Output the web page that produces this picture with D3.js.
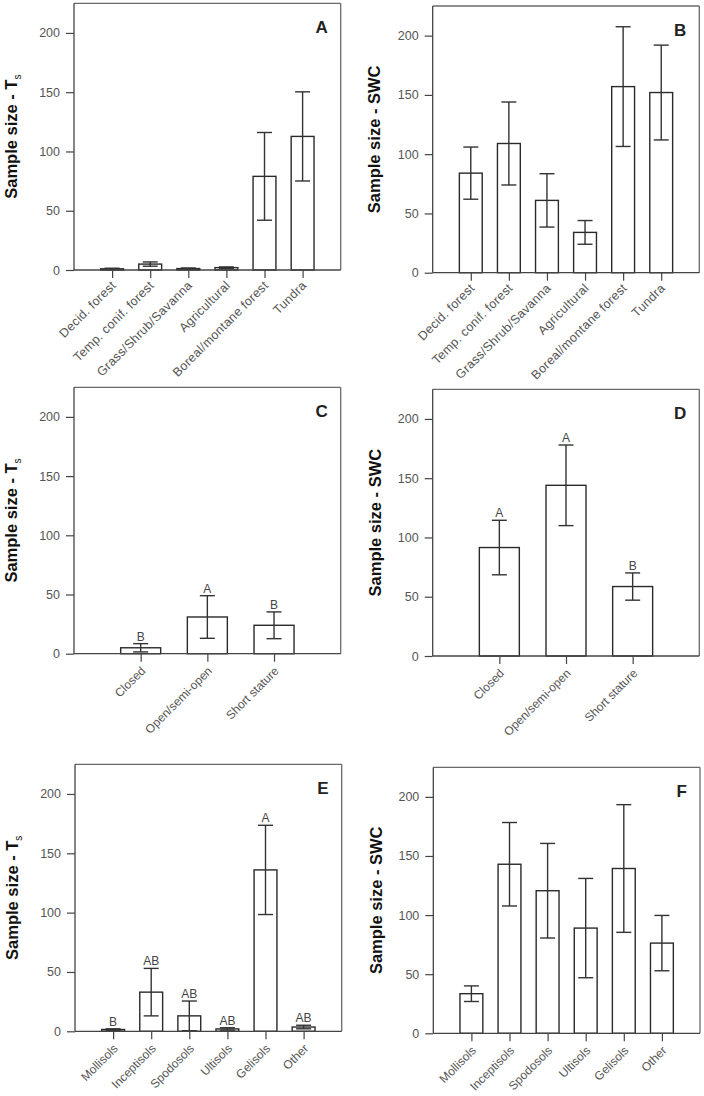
<!DOCTYPE html>
<html><head><meta charset="utf-8">
<script src="https://cdn.jsdelivr.net/npm/d3@7"></script>
<style>body{margin:0;background:#fff}svg{display:block}</style>
</head><body>
<script>
const catsVeg = ["Decid. forest","Temp. conif. forest","Grass/Shrub/Savanna","Agricultural","Boreal/montane forest","Tundra"];
const catsStat = ["Closed","Open/semi-open","Short stature"];
const catsSoil = ["Mollisols","Inceptisols","Spodosols","Ultisols","Gelisols","Other"];
const yTicks = [0,50,100,150,200];

const aVals = [1, 5, 1.2, 2, 79, 112.7];
const aErr  = [0.5, 1.8, 0.5, 0.6, 37, 37.6];
const bVals = [84, 109, 61, 34, 157, 152];
const bErr  = [22, 35, 22.5, 10, 50.5, 40];
const cVals = [5, 31, 24];
const cErr  = [3.5, 18, 11.3];
const cLetters = ["B","A","B"];
const dVals = [91.5, 144, 58.6];
const dErr  = [23, 34, 11.5];
const dLetters = ["A","A","B"];
const eVals = [1.5, 33, 13, 2, 136, 3.6];
const eErr  = [0.6, 20, 12.5, 1, 37.6, 1.5];
const eLetters = ["B","AB","AB","AB","A","AB"];
const fVals = [33.5, 143, 120.6, 89, 139.4, 76.3];
const fErr  = [6.6, 35.3, 40, 42, 54, 23.4];

const vegLab = {size:12.5, ls:0.3, dx:1, dy:13};
const stdLab = {size:12, ls:0, dx:2, dy:15};

const panels = [
  {id:"A", cats:catsVeg, vals:aVals, err:aErr, letters:null, ylab:"Ts", lab:vegLab, x0:74, x1:340.7, yTop:3.3, yZero:270, labX:17},
  {id:"B", cats:catsVeg, vals:bVals, err:bErr, letters:null, ylab:"SWC", lab:vegLab, x0:432.7, x1:699.3, yTop:6, yZero:272.7, labX:380},
  {id:"C", cats:catsStat, vals:cVals, err:cErr, letters:cLetters, ylab:"Ts", lab:stdLab, x0:74, x1:340.7, yTop:387.3, yZero:653.7, labX:17},
  {id:"D", cats:catsStat, vals:dVals, err:dErr, letters:dLetters, ylab:"SWC", lab:stdLab, x0:432.7, x1:699.3, yTop:389.3, yZero:656, labX:381},
  {id:"E", cats:catsSoil, vals:eVals, err:eErr, letters:eLetters, ylab:"Ts", lab:stdLab, x0:75, x1:341.7, yTop:764.3, yZero:1031.3, labX:18},
  {id:"F", cats:catsSoil, vals:fVals, err:fErr, letters:null, ylab:"SWC", lab:stdLab, x0:433.3, x1:700, yTop:767.3, yZero:1033.3, labX:382}
];

const W = 704, H = 1096;
const font = "'Liberation Sans', Arial, Helvetica, sans-serif";
const svg = d3.select("body").append("svg").attr("width", W).attr("height", H)
  .style("font-family", font);

panels.forEach(p => {
  const g = svg.append("g");
  const x = d3.scalePoint().domain(p.cats).range([p.x0, p.x1]).padding(1);
  const y = d3.scaleLinear().domain([0, 225]).range([p.yZero, p.yTop]);
  const bw = x.step() * 0.6;
  const cap = 15;

  // frame top/right
  g.append("line").attr("x1", p.x0).attr("x2", p.x1).attr("y1", p.yTop).attr("y2", p.yTop)
    .attr("stroke", "#6a6a6a").attr("stroke-width", 1.3);
  g.append("line").attr("x1", p.x1).attr("x2", p.x1).attr("y1", p.yTop).attr("y2", p.yZero)
    .attr("stroke", "#6a6a6a").attr("stroke-width", 1.3);

  // bars
  g.selectAll("rect.bar").data(p.vals).join("rect")
    .attr("x", (d,i) => x(p.cats[i]) - bw/2)
    .attr("y", d => y(d))
    .attr("width", bw)
    .attr("height", d => y(0) - y(d))
    .attr("fill", "#fff").attr("stroke", "#2a2a2a").attr("stroke-width", 1.4);

  // error bars
  const eg = g.append("g").attr("stroke", "#333").attr("stroke-width", 1.4).attr("fill", "none");
  p.vals.forEach((v,i) => {
    const cx = x(p.cats[i]);
    const hi = v + p.err[i], lo = Math.max(0, v - p.err[i]);
    eg.append("line").attr("x1", cx).attr("x2", cx).attr("y1", y(hi)).attr("y2", y(lo));
    eg.append("line").attr("x1", cx - cap/2).attr("x2", cx + cap/2).attr("y1", y(hi)).attr("y2", y(hi));
    eg.append("line").attr("x1", cx - cap/2).attr("x2", cx + cap/2).attr("y1", y(lo)).attr("y2", y(lo));
  });

  // significance letters
  if (p.letters) {
    g.selectAll("text.sig").data(p.letters).join("text")
      .attr("x", (d,i) => x(p.cats[i]))
      .attr("y", (d,i) => y(p.vals[i] + p.err[i]) - 3)
      .attr("text-anchor", "middle").attr("font-size", 12).attr("fill", "#444")
      .text(d => d);
  }

  // y axis
  const ya = d3.axisLeft(y).tickValues(yTicks).tickSize(8).tickPadding(6).tickSizeOuter(0);
  const yg = g.append("g").attr("transform", `translate(${p.x0},0)`).call(ya);
  yg.attr("font-family", font);
  yg.select(".domain").attr("stroke", "#444").attr("stroke-width", 1.3)
    .attr("d", `M0,${p.yZero}V${p.yTop}`);
  yg.selectAll(".tick line").attr("stroke", "#444").attr("stroke-width", 1.2);
  yg.selectAll(".tick text").attr("font-size", 12.5).attr("fill", "#555");

  // x axis
  const xa = d3.axisBottom(x).tickSize(8).tickSizeOuter(0);
  const xg = g.append("g").attr("transform", `translate(0,${p.yZero})`).call(xa);
  xg.attr("font-family", font);
  xg.select(".domain").attr("stroke", "#444").attr("stroke-width", 1.3)
    .attr("d", `M${p.x0},0H${p.x1}`);
  xg.selectAll(".tick line").attr("stroke", "#444").attr("stroke-width", 1.2);
  xg.selectAll(".tick text")
    .attr("font-size", p.lab.size).attr("letter-spacing", p.lab.ls).attr("fill", "#555")
    .attr("text-anchor", "end")
    .attr("dy", "0.35em")
    .attr("transform", `translate(${p.lab.dx},${p.lab.dy}) rotate(-45)`)
    .attr("y", 0).attr("x", 0);

  // panel letter
  g.append("text").attr("x", p.x1 - 13).attr("y", p.yTop + 30)
    .attr("text-anchor", "end").attr("font-size", 17).attr("font-weight", "bold")
    .attr("fill", "#222").text(p.id);

  // y label
  const cy = (p.yTop + p.yZero) / 2;
  const lab = g.append("text")
    .attr("transform", `translate(${p.labX},${cy}) rotate(-90)`)
    .attr("text-anchor", "middle").attr("font-size", 16.5).attr("font-weight", "bold")
    .attr("fill", "#111");
  if (p.ylab === "Ts") {
    lab.append("tspan").text("Sample size - T");
    lab.append("tspan").attr("font-size", 10).attr("font-weight", "normal")
      .attr("dy", 4).text("s");
  } else {
    lab.text("Sample size - SWC");
  }
});
</script>
</body></html>
